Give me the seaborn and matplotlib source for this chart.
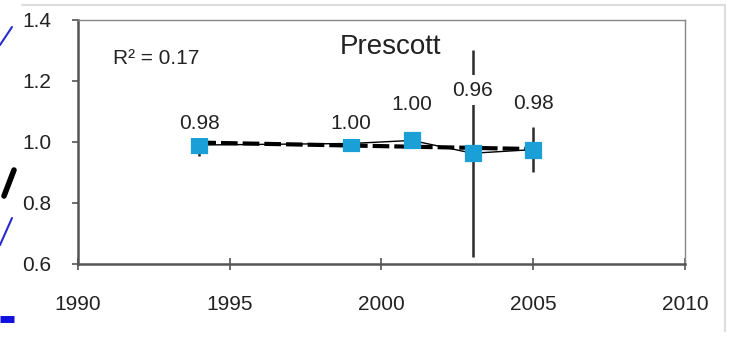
import numpy as np
import pandas as pd
import seaborn as sns
import matplotlib.pyplot as plt

# values
years = [1994, 1999, 2001, 2003, 2005]
ratio = [0.99, 0.995, 1.005, 0.963, 0.975]
err = [0.035, 0.01, 0.01, 0.34, 0.075]
labels = ["0.98", "1.00", "1.00", "0.96", "0.98"]
label_y = [1.062, 1.06, 1.122, 1.17, 1.125]

df = pd.DataFrame({"year": years, "ratio": ratio})

sns.set_style("white")
plt.rcParams['font.family'] = ['Liberation Sans', 'DejaVu Sans']

fig = plt.figure(figsize=(7.35, 3.38), dpi=100)
ax = fig.add_axes([0.106, 0.219, 0.826, 0.722])

# error bars (black, no caps)
ax.errorbar(years, ratio, yerr=err, fmt='none', ecolor='#2a2a2a', elinewidth=1.8, zorder=2)
sns.lineplot(data=df, x="year", y="ratio", color='black', lw=1.0, ax=ax, zorder=3)

# linear trend, dashed
coef = np.polyfit(years, ratio, 1)
xt = np.array([years[0], years[-1]])
ax.plot(xt, np.polyval(coef, xt), color='black', ls=(0, (4, 1.2)), lw=3.0, zorder=3)

sns.scatterplot(data=df, x="year", y="ratio", marker='s', s=125, color='#1a9fd6',
                edgecolor='#1a9fd6', ax=ax, zorder=4)

for x, ly, t in zip(years, label_y, labels):
    ax.text(x, ly, t, ha='center', va='center', fontsize=15, color='#222222',
            bbox=dict(facecolor='white', edgecolor='none', pad=4), zorder=5)

ax.text(2000.3, 1.31, "Prescott", ha='center', va='center', fontsize=20, color='#222222')
ax.text(1991.15, 1.272, "R² = 0.17", ha='left', va='center', fontsize=15, color='#222222')

ax.set_xlim(1990, 2010)
ax.set_ylim(0.6, 1.4)
ax.set_xticks([1990, 1995, 2000, 2005, 2010])
ax.set_yticks([0.6, 0.8, 1.0, 1.2, 1.4])
ax.set_yticklabels(["0.6", "0.8", "1.0", "1.2", "1.4"])
ax.set_xlabel("")
ax.set_ylabel("")
ax.tick_params(axis='x', direction='inout', length=8, width=1.2, colors='#555555',
               labelcolor='#222222', labelsize=15, pad=18)
ax.tick_params(axis='y', direction='out', length=4, width=1.2, colors='#555555',
               labelcolor='#222222', labelsize=15, pad=15)
ax.tick_params(bottom=True, left=True)

for side in ['left', 'bottom']:
    ax.spines[side].set_color('#555555')
    ax.spines[side].set_linewidth(1.8)
for side in ['top', 'right']:
    ax.spines[side].set_color('#888888')
    ax.spines[side].set_linewidth(1.0)

# thin grey frame edges of the surrounding panel
fig.add_artist(plt.Line2D([0.03, 0.986], [0.985, 0.985], color='#dddddd', lw=1.5))
fig.add_artist(plt.Line2D([0.986, 0.986], [0.02, 0.985], color='#dddddd', lw=1.5))

# fragments of the neighbouring panel on the left edge
W, H = 735.0, 338.0
fig.add_artist(plt.Line2D([0 / W, 12 / W], [1 - 45 / H, 1 - 27 / H], color='#2a2ad0', lw=1.5))
fig.add_artist(plt.Line2D([4 / W, 14 / W], [1 - 196 / H, 1 - 170 / H], color='black', lw=4))
fig.add_artist(plt.Line2D([0 / W, 12 / W], [1 - 245 / H, 1 - 218 / H], color='#2a2ad0', lw=1.5))
fig.add_artist(plt.Line2D([0 / W, 14 / W], [1 - 319 / H, 1 - 319 / H], color='#1010e0', lw=5,
                          solid_capstyle='butt'))

fig.savefig("out.png", dpi=100)
